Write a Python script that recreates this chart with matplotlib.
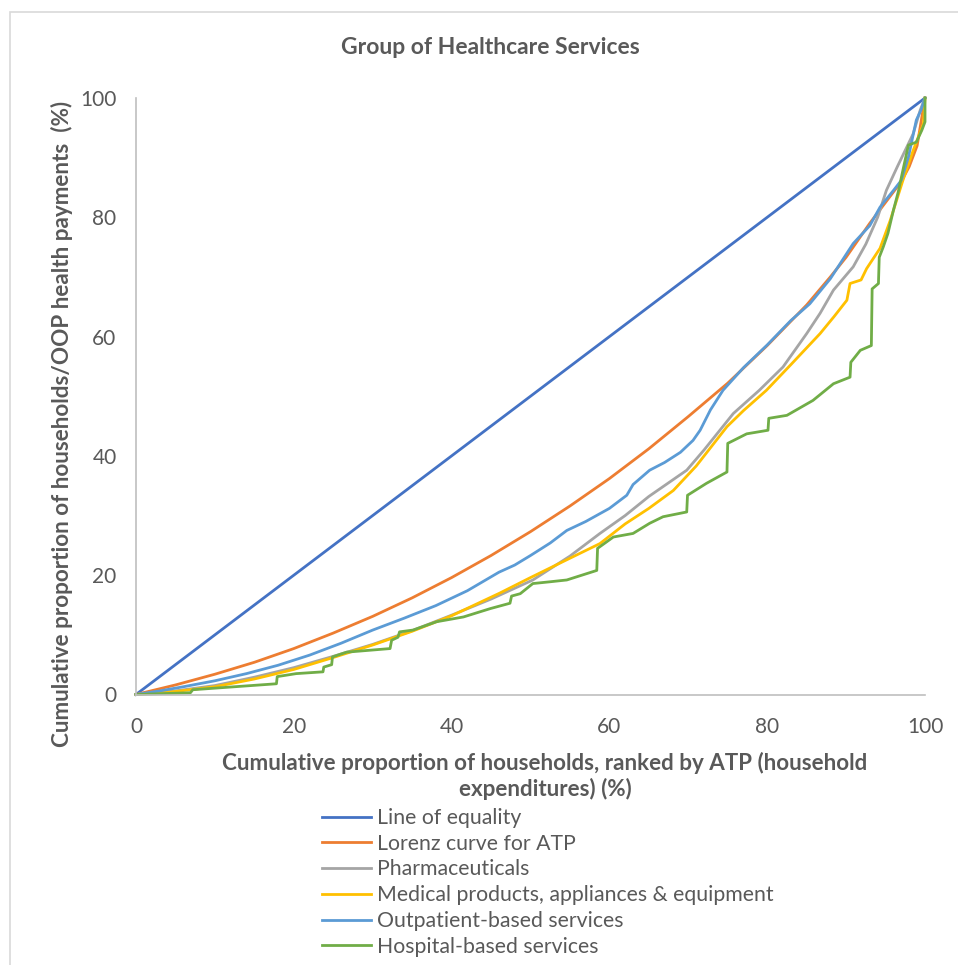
import matplotlib
matplotlib.use("Agg")
import matplotlib.pyplot as plt
from matplotlib.patches import Rectangle

plt.rcParams['font.family'] = ['Lato', 'DejaVu Sans']

# Cumulative share of households (%) and cumulative share of payments (%)
equality_x = [0, 100]
equality_y = [0, 100]

lorenz_x = [0, 5, 10, 15, 20, 25, 30, 35, 40, 45, 50, 55, 60, 65, 70, 75, 80, 85, 88, 90, 93, 95, 97, 98, 99, 100]
lorenz_y = [0, 1.6, 3.4, 5.4, 7.7, 10.3, 13.1, 16.2, 19.6, 23.3, 27.3, 31.6, 36.2, 41.2, 46.6, 52.2, 58.5, 65.3, 70.0, 73.3, 79.0, 82.5, 86.0, 88.5, 92.0, 100]

pharma_x = [0, 5, 10, 15, 20, 25, 30, 35, 40, 45, 50.3, 55, 58.8, 62, 65, 69.8, 72, 75.7, 79, 82, 85, 86.7, 88.4, 90.9, 92.5, 94, 95.1, 96.5, 97.7, 98.5, 99.4, 100]
pharma_y = [0, 0.6, 1.5, 2.9, 4.5, 6.4, 8.4, 10.7, 13.3, 16.0, 19.2, 23.2, 27.0, 30.0, 33.2, 37.6, 41.0, 47.1, 51.0, 54.9, 60.5, 63.9, 67.8, 71.7, 75.5, 80.0, 84.5, 88.5, 91.8, 94.0, 98.0, 100]

medical_x = [0, 5, 10, 15, 20, 25, 30, 35, 40, 46.1, 50, 54, 58.8, 62, 65, 68.1, 71, 74.9, 77, 79.9, 83, 86.7, 88.5, 90.1, 90.5, 91.9, 92.6, 94.3, 95.6, 97.2, 98.5, 99.8, 100]
medical_y = [0, 0.5, 1.3, 2.6, 4.2, 6.2, 8.3, 10.6, 13.2, 17.0, 19.6, 22.2, 25.3, 28.6, 31.2, 34.2, 38.3, 44.9, 47.6, 51.0, 55.3, 60.5, 63.4, 66.1, 68.9, 69.5, 71.4, 74.8, 79.5, 86.2, 91.2, 95.7, 100]

outpatient_x = [0, 3, 6, 10, 14, 18, 22, 26, 30, 34, 38, 42, 46, 48, 50, 52.5, 54.6, 57, 60, 62.2, 63, 65.1, 67, 69, 70.6, 71.5, 72.8, 74.4, 77, 80, 83, 85.4, 88, 90.9, 93, 94.3, 96, 97, 97.9, 98.9, 99.5, 100]
outpatient_y = [0, 0.6, 1.3, 2.3, 3.5, 4.9, 6.6, 8.6, 10.8, 12.8, 14.9, 17.4, 20.5, 21.7, 23.3, 25.4, 27.5, 29.0, 31.2, 33.4, 35.2, 37.6, 38.9, 40.6, 42.6, 44.3, 47.7, 51.0, 54.8, 58.6, 62.7, 65.5, 69.7, 75.6, 78.6, 81.7, 84.5, 86.2, 90.1, 96.3, 98.0, 100]

hospital_x = [0, 6.9, 7.2, 17.8, 17.9, 20.3, 23.7, 23.8, 24.8, 24.9, 26.7, 32.2, 32.4, 33.2, 33.4,
              35.1, 38.1, 41.5, 44.9, 47.4, 47.6, 48.7, 50.3, 52.5, 54.6, 58.4, 58.5, 60.5, 63.0, 65.1,
              66.8, 69.8, 69.9, 72.3, 74.9, 75.0, 77.4, 80.1, 80.2, 82.5, 85.8, 88.4, 90.5, 90.6, 91.8,
              93.2, 93.3, 94.1, 94.2, 94.7, 95.3, 96.0, 96.6, 97.2, 97.9, 98.9, 99.6, 100, 100]
hospital_y = [0, 0.3, 0.8, 1.8, 3.0, 3.5, 3.8, 4.6, 5.0, 6.3, 7.1, 7.7, 9.1, 9.6, 10.5,
              10.8, 12.2, 13.0, 14.4, 15.3, 16.5, 16.9, 18.6, 18.9, 19.2, 20.8, 24.5, 26.4, 27.0, 28.7,
              29.8, 30.6, 33.4, 35.4, 37.3, 42.1, 43.7, 44.3, 46.3, 46.8, 49.3, 52.1, 53.2, 55.7, 57.7,
              58.5, 68.0, 68.9, 73.3, 75.0, 77.3, 81.2, 84.2, 87.9, 92.1, 92.6, 94.6, 96.0, 100]

series_labels = ["Line of equality", "Lorenz curve for ATP", "Pharmaceuticals",
                 "Medical products, appliances & equipment", "Outpatient-based services",
                 "Hospital-based services"]
series_colors = ["#4472C4", "#ED7D31", "#A5A5A5", "#FFC000", "#5B9BD5", "#70AD47"]
ticks = [0, 20, 40, 60, 80, 100]

TEXT = "#595959"
W, H = 958, 965
fig = plt.figure(figsize=(W / 100, H / 100), dpi=100)
fig.patch.set_facecolor("white")

# chart-area frame
fig.add_artist(Rectangle((10 / W, -0.2), 1.5, 1 - 12 / H + 0.2, transform=fig.transFigure,
                         fill=False, edgecolor="#D9D9D9", lw=1.2))

ax = fig.add_axes([136 / W, 1 - 694.5 / H, 789 / W, 596.5 / H])

data = [(equality_x, equality_y), (lorenz_x, lorenz_y), (pharma_x, pharma_y),
        (medical_x, medical_y), (outpatient_x, outpatient_y), (hospital_x, hospital_y)]
for (xs, ys), lab, col in zip(data, series_labels, series_colors):
    ax.plot(xs, ys, color=col, lw=2.0, label=lab, solid_joinstyle="round", clip_on=False)

ax.set_xlim(0, 100)
ax.set_ylim(0, 100)
ax.set_xticks(ticks)
ax.set_yticks(ticks)
ax.tick_params(length=0, labelsize=15, labelcolor=TEXT)
ax.tick_params(axis="x", pad=16)
ax.tick_params(axis="y", pad=14)
for s in ["top", "right"]:
    ax.spines[s].set_visible(False)
for s in ["left", "bottom"]:
    ax.spines[s].set_color("#BFBFBF")
    ax.spines[s].set_linewidth(1.2)

fig.text(490 / W, 1 - 47 / H, "Group of Healthcare Services", ha="center", va="center",
         fontsize=16.5, fontweight="bold", color=TEXT)

fig.text(62 / W, 1 - 424 / H, "Cumulative proportion of households/OOP health payments  (%)",
         rotation=90, ha="center", va="center", fontsize=16.2, fontweight="bold", color=TEXT)

fig.text(545 / W, 1 - 776 / H,
         "Cumulative proportion of households, ranked by ATP (household\nexpenditures) (%)",
         ha="center", va="center", fontsize=16.1, fontweight="bold", color=TEXT,
         linespacing=1.2)

fig.legend(loc="upper left", bbox_to_anchor=(322 / W, 1 - 808 / H), frameon=False,
           fontsize=15.3, labelcolor=TEXT, handlelength=2.3, handletextpad=0.3,
           labelspacing=0.27, borderaxespad=0, borderpad=0)

fig.savefig("out.png", dpi=100, facecolor="white")
